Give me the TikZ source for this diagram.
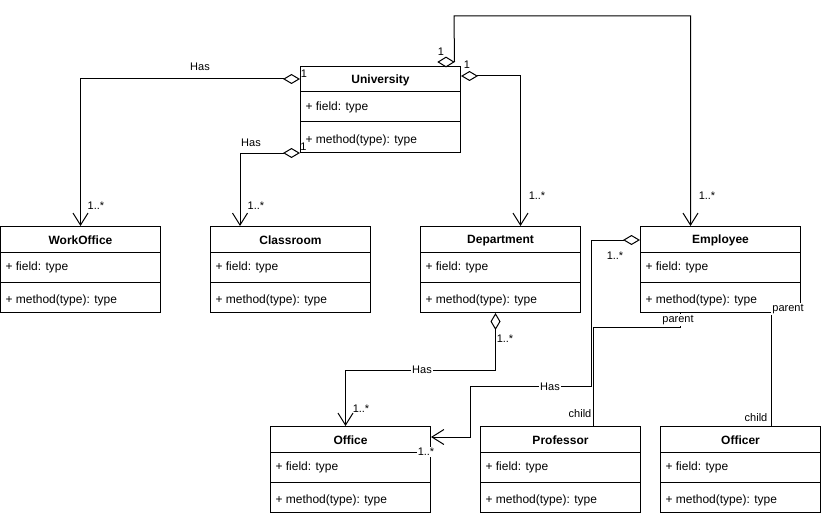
\documentclass[tikz,border=0pt]{standalone}
\usepackage{fontspec}
\setmainfont{Liberation Sans}
\usetikzlibrary{arrows.meta,calc,shapes.geometric}
\newcommand{\umlcls}[4]{%
  \node[clsbox] (#1) at (#2,#3) {};
  \node[clstitle] (#1-t) at ($(#1.north)+(0,14.5)$) {#4};
  \draw ($(#1.north west)+(0,26)$) -- ($(#1.north east)+(0,26)$);
  \node[clstext] (#1-f) at ($(#1.north west)+(5,41)$) {+ field: type};
  \draw ($(#1.north west)+(0,56)$) -- ($(#1.north east)+(0,56)$);
  \node[clstext] (#1-m) at ($(#1.north west)+(5,74.5)$) {+ method(type): type};
}
\begin{document}
\begin{tikzpicture}[x=1pt,y=-1pt, line width=1pt,
  clsbox/.style={draw, minimum width=160pt, minimum height=86pt, anchor=north west, inner sep=0pt},
  clstitle/.style={font=\fontsize{12}{14}\selectfont\bfseries, inner sep=0pt},
  clstext/.style={font=\fontsize{12}{14}\selectfont, anchor=west, inner sep=0pt},
  lbl/.style={font=\fontsize{11}{13}\selectfont, inner sep=1pt, yshift=-1pt},
  lblw/.style={lbl, fill=white},
  agg/.style={{Diamond[open,length=17pt,width=10pt]}-{Straight Barb[length=12pt,width=15pt]}},
  assoc/.style={-{Straight Barb[length=12pt,width=15pt]}},
  plain/.style={-},
  aggbox/.style={diamond, draw, fill=white, minimum width=16pt, minimum height=10pt, inner sep=0pt},
]
\useasboundingbox (0,0) rectangle (821,516);

\umlcls{uni}{300}{66}{University}
\umlcls{wo}{0}{226}{WorkOffice}
\umlcls{cr}{210}{226}{Classroom}
\umlcls{dep}{420}{226}{Department}
\umlcls{emp}{640}{226}{Employee}
\umlcls{off}{270}{426}{Office}
\umlcls{prof}{480}{426}{Professor}
\umlcls{offc}{660}{426}{Officer}

% University -> WorkOffice
\draw[agg] ($(uni.north west)+(0,13)$) -| (wo.north);
\node[lbl] (l1) at (200,66) {Has};
\node[lbl] (l2) at (304,73) {1};
\node[lbl] (l3) at (96,205) {1..*};

% University -> Classroom
\draw[agg] (uni.south west) -| ($(cr.north west)+(30,0)$);
\node[lbl] (l4) at (251,142) {Has};
\node[lbl] (l5) at (303.5,146) {1};
\node[lbl] (l6) at (256,205) {1..*};

% University -> Department
\draw[agg] ($(uni.north east)+(0,10)$) -| ($(dep.north)+(20,0)$);
\node[lbl] (l7) at (467,64) {1};
\node[lbl] (l8) at (537,195) {1..*};

% University -> Employee
\node[aggbox] (ud) at (446,62) {};
\coordinate (ctop) at (454,16);
\draw[assoc] (ud.east) -- (ctop) -| ($(emp.north)+(-30,0)$);
\node[lbl] (l9) at (441,51) {1};
\node[lbl] (l10) at (707,195) {1..*};

% Department -> Office
\draw[agg] ($(dep.south)+(-5,0)$) -- ++(0,57) -| ($(off.north)+(-5,0)$);
\node[lblw] (l11) at (422,369) {Has};
\node[lbl] (l12) at (505,338) {1..*};
\node[lbl] (l13) at (361,408) {1..*};

% Employee -> Office
\coordinate (e1) at (591,386);
\coordinate (e2) at (470,437);
\draw[agg] ($(emp.north west)+(0,14)$) -| (e1) -| (e2) -- ($(off.north east)+(0,11)$);
\node[lblw] (l14) at (550,386) {Has};
\node[lbl] (l15) at (615,255) {1..*};
\node[lblw] (l16) at (426,451) {1..*};

% Employee -> Professor
\draw[plain] ($(emp.south west)+(40,0)$) -- ++(0,14) -| ($(prof.north west)+(113,0)$);
\node[lblw] (l17) at (678,319) {parent};
\node[lbl] (l18) at (580,413) {child};

% Employee -> Officer
\draw[plain] ($(emp.south west)+(131,0)$) -- ($(offc.north west)+(111,0)$);
\node[lblw] (l19) at (788,308) {parent};
\node[lbl] (l20) at (756,417) {child};
\end{tikzpicture}
\end{document}
